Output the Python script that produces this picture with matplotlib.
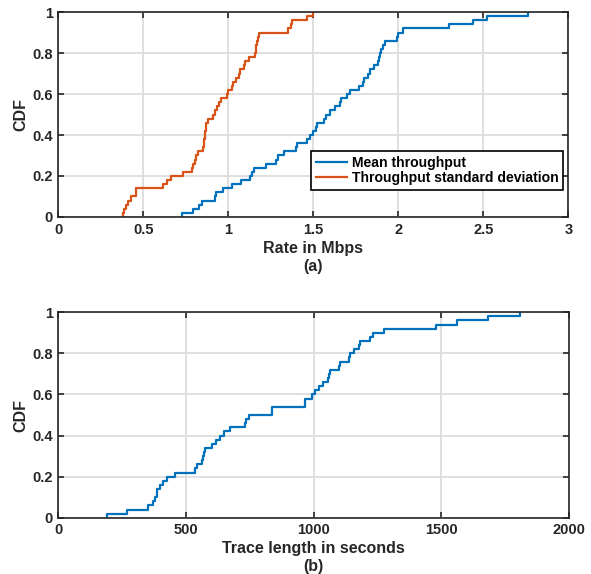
import numpy as np
import matplotlib
matplotlib.use("Agg")
from matplotlib import pyplot as plt

# sorted samples, 50 each (step of 0.02 in the CDF)
mean_tput = [0.730, 0.790, 0.830, 0.845, 0.920, 0.925, 0.970, 1.020, 1.075, 1.125,
             1.140, 1.150, 1.220, 1.280, 1.295, 1.330, 1.400, 1.405, 1.460, 1.480,
             1.500, 1.515, 1.520, 1.560, 1.575, 1.600, 1.630, 1.655, 1.665, 1.700,
             1.716, 1.770, 1.790, 1.800, 1.820, 1.835, 1.855, 1.880, 1.885, 1.890,
             1.895, 1.910, 1.922, 1.990, 1.995, 2.025, 2.300, 2.440, 2.520, 2.760]
std_tput = [0.382, 0.388, 0.397, 0.408, 0.425, 0.457, 0.457, 0.618, 0.637, 0.663,
            0.735, 0.784, 0.794, 0.804, 0.808, 0.819, 0.853, 0.857, 0.859, 0.861,
            0.863, 0.866, 0.868, 0.882, 0.912, 0.920, 0.935, 0.947, 0.954, 0.990,
            1.000, 1.020, 1.030, 1.047, 1.060, 1.070, 1.090, 1.100, 1.120, 1.155,
            1.162, 1.165, 1.168, 1.175, 1.180, 1.353, 1.368, 1.373, 1.465, 1.500]
trace_len = [192, 268, 352, 369, 380, 385, 388, 398, 411, 427,
             457, 535, 542, 562, 565, 572, 574, 600, 617, 633,
             648, 672, 731, 736, 745, 835, 837, 965, 967, 993,
             1007, 1020, 1037, 1058, 1062, 1065, 1100, 1104, 1140, 1144,
             1159, 1176, 1180, 1222, 1231, 1277, 1478, 1560, 1683, 1808]

rate_ticks = [0, 0.5, 1, 1.5, 2, 2.5, 3]
rate_ticklabels = ["0", "0.5", "1", "1.5", "2", "2.5", "3"]
len_ticks = [0, 500, 1000, 1500, 2000]
len_ticklabels = ["0", "500", "1000", "1500", "2000"]
cdf_ticks = [0, 0.2, 0.4, 0.6, 0.8, 1]
cdf_ticklabels = ["0", "0.2", "0.4", "0.6", "0.8", "1"]

BLUE = "#0072BD"
ORANGE = "#D95319"
TXT = "#262626"

plt.rcParams["font.family"] = ["Liberation Sans", "DejaVu Sans"]
plt.rcParams["font.weight"] = "bold"


def cdf_step(ax, samples, **kw):
    xs = np.sort(np.asarray(samples, dtype=float))
    ys = np.arange(1, len(xs) + 1) / len(xs)
    return ax.step(np.r_[xs[0], xs], np.r_[0, ys], where="post", **kw)


def style_axes(ax):
    ax.grid(True, color="#dcdcdc", linewidth=1.3)
    ax.set_axisbelow(True)
    for s in ax.spines.values():
        s.set_color(TXT)
        s.set_linewidth(1.2)
    ax.tick_params(which="both", direction="in", length=4, width=1.2, color=TXT,
                   top=True, right=True, labelsize=10.5, labelcolor=TXT, pad=4)
    ax.set_yticks(cdf_ticks)
    ax.set_yticklabels(cdf_ticklabels, fontweight="bold")
    ax.set_ylim(0, 1)
    ax.set_ylabel("CDF", fontsize=11.5, fontweight="bold", color=TXT, labelpad=3)


fig = plt.figure(figsize=(5.91, 5.74), dpi=100)
ax1 = fig.add_axes([0.0987, 0.622, 0.863, 0.357])
ax2 = fig.add_axes([0.0987, 0.098, 0.864, 0.358])

#
# (a) rates
#
cdf_step(ax1, mean_tput, color=BLUE, linewidth=1.6, label="Mean throughput")
cdf_step(ax1, std_tput, color=ORANGE, linewidth=1.6, label="Throughput standard deviation")
style_axes(ax1)
ax1.set_xlim(0, 3)
ax1.set_xticks(rate_ticks)
ax1.set_xticklabels(rate_ticklabels, fontweight="bold")
ax1.set_xlabel("Rate in Mbps\n(a)", fontsize=11.5, fontweight="bold", color=TXT,
               labelpad=3, linespacing=1.25)
leg = ax1.legend(loc="lower right", bbox_to_anchor=(0.990, 0.132), borderaxespad=0,
                 fontsize=10.1, fancybox=False, framealpha=1, edgecolor="black",
                 handlelength=2.2, handletextpad=0.35, borderpad=0.35, labelspacing=0.1)
leg.get_frame().set_linewidth(1.2)
for t in leg.get_texts():
    t.set_fontweight("bold")
    t.set_color("black")

#
# (b) trace lengths
#
cdf_step(ax2, trace_len, color=BLUE, linewidth=1.6)
style_axes(ax2)
ax2.set_xlim(0, 2000)
ax2.set_xticks(len_ticks)
ax2.set_xticklabels(len_ticklabels, fontweight="bold")
ax2.set_xlabel("Trace length in seconds\n(b)", fontsize=11.5, fontweight="bold", color=TXT,
               labelpad=3, linespacing=1.2)

fig.savefig("out.png", dpi=100)
